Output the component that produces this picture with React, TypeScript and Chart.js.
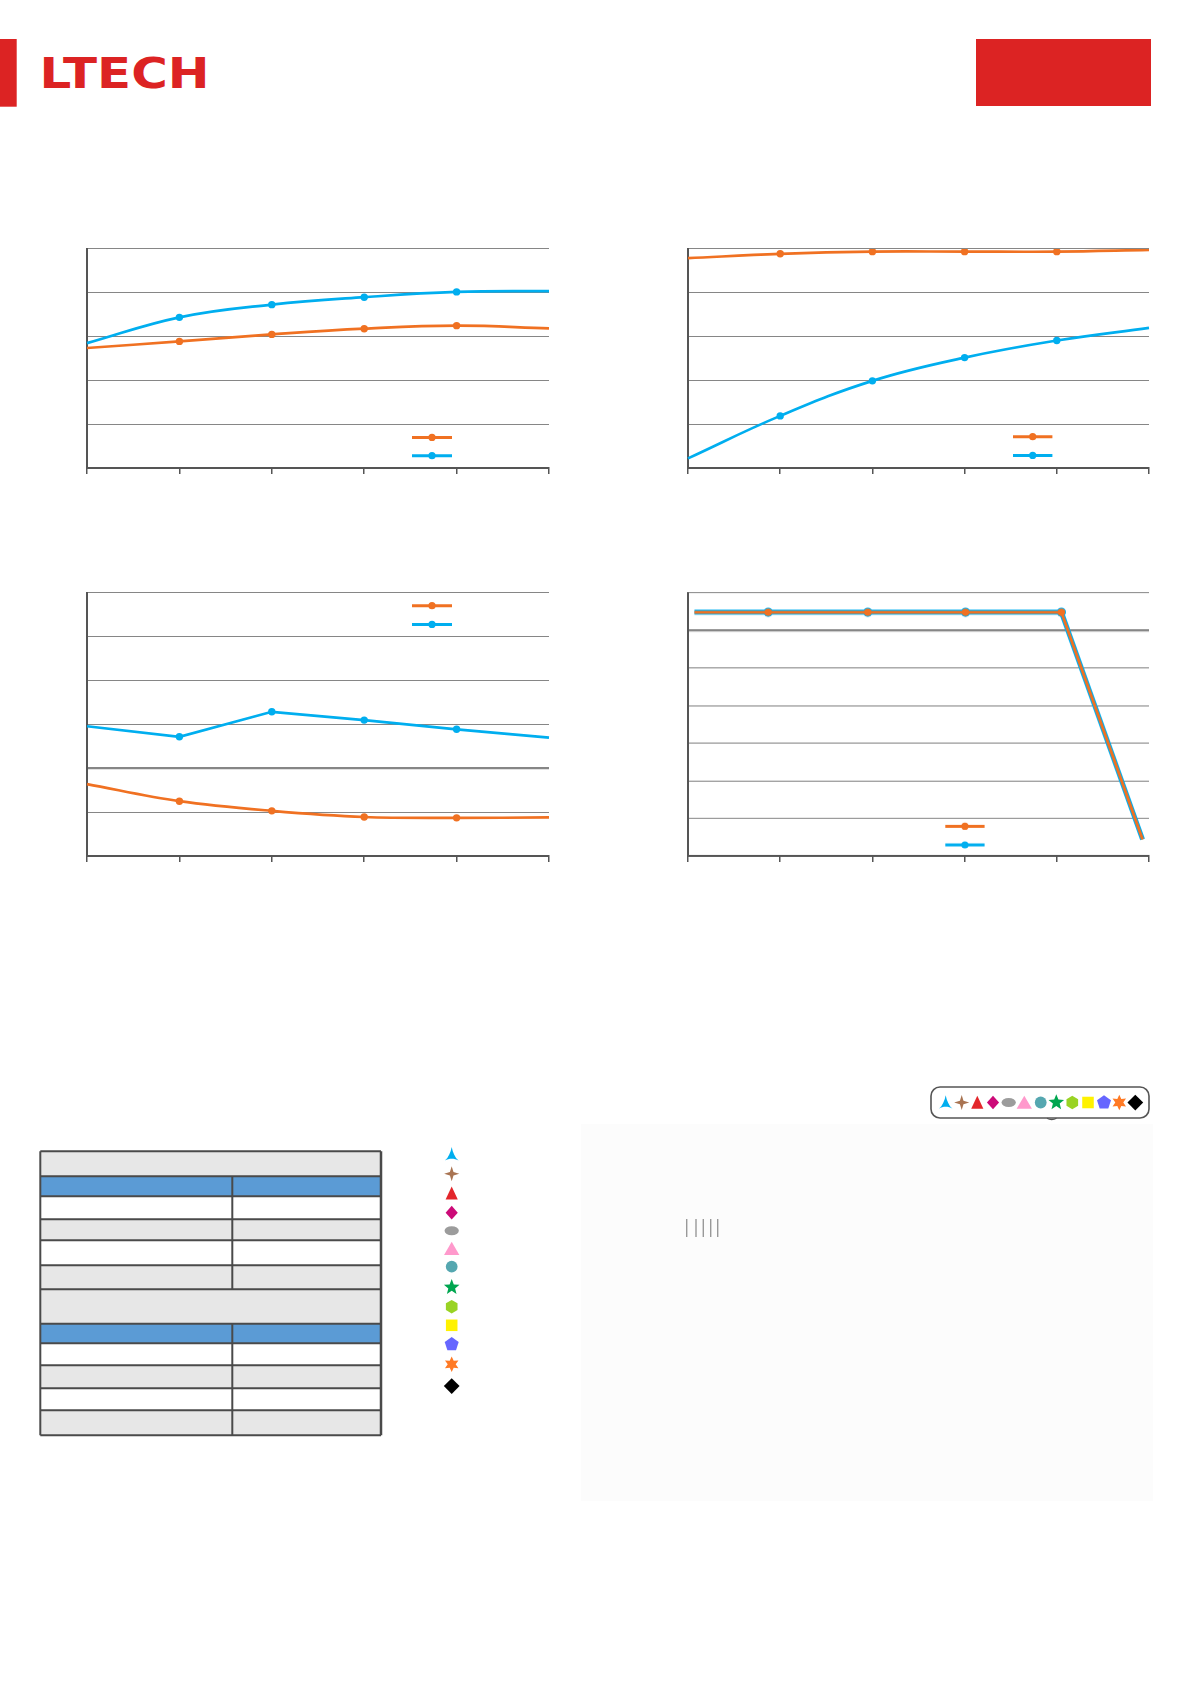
import React, { useEffect, useRef } from "react";
import { Chart, registerables } from "chart.js";
Chart.register(...registerables);

// ---------- data ----------
const ORANGE = "#f07122";
const BLUE = "#00aeef";

const xCats = ["0", "1", "2", "3", "4", "5"];
const c1Orange = [2.74, 2.89, 3.05, 3.18, 3.25, 3.19];
const c1Blue = [2.85, 3.44, 3.73, 3.9, 4.02, 4.04];
const c2Orange = [4.79, 4.89, 4.94, 4.94, 4.94, 4.98];
const c2Blue = [0.22, 1.19, 1.99, 2.52, 2.91, 3.2];
const c3Orange = [1.64, 1.25, 1.03, 0.89, 0.87, 0.88];
const c3Blue = [2.96, 2.72, 3.29, 3.1, 2.89, 2.7];
const c4X = [0.07, 0.87, 1.95, 3.01, 4.05, 4.93];
const c4Y = [6.49, 6.49, 6.49, 6.49, 6.49, 0.44];
const markerRadii = [0, 3.7, 3.7, 3.7, 3.7, 0];

const tableRows = ["title", "head", "white", "gray", "white", "gray", "title", "head", "white", "gray", "white", "gray"];
const tableEdges = [1151.3, 1176.3, 1196.3, 1219.3, 1240.3, 1265.3, 1289.3, 1323.7, 1343.3, 1365.3, 1388.3, 1410.3, 1435.3];

const symbolShapes = ["dart", "star4", "triangle", "diamond", "ellipse", "triangleWide", "circle", "star5", "hexagon", "square", "pentagon", "star6", "diamondBlack"];
const symbolColors = ["#00aeef", "#a97452", "#e3262b", "#cc0a78", "#9c9c9c", "#ff99cc", "#55a7b0", "#00a650", "#99d324", "#fff200", "#6666ff", "#ff7a25", "#000000"];
const listYs = [1154.3, 1173.7, 1193.3, 1212.7, 1230.7, 1248.7, 1266.7, 1287.3, 1306.7, 1325.3, 1344.3, 1364.3, 1386];
const boxXs = [945.7, 961.7, 977.3, 993, 1008.7, 1024.3, 1040.7, 1056.3, 1072.3, 1088, 1104, 1119.3, 1135.3];
const barLineXs = [686.7, 696, 703.3, 710.7, 717.7];

// ---------- chart ----------
type Area = { l: number; r: number; t: number; b: number };

const miniLegend = {
  id: "miniLegend",
  afterDraw(chart: any) {
    const o = chart.options.plugins.miniLegend;
    if (!o) return;
    const ctx = chart.ctx;
    const a = chart.chartArea;
    o.colors.forEach((c: string, i: number) => {
      const y = a.top + o.y + i * o.dy;
      const x = a.left + o.x;
      ctx.save();
      ctx.strokeStyle = c;
      ctx.lineWidth = 3;
      ctx.beginPath();
      ctx.moveTo(x, y);
      ctx.lineTo(x + o.len, y);
      ctx.stroke();
      ctx.fillStyle = c;
      ctx.beginPath();
      ctx.arc(x + o.len / 2, y, 3.6, 0, Math.PI * 2);
      ctx.fill();
      ctx.restore();
    });
  },
};

function LineChart(props: {
  area: Area;
  yMax: number;
  datasets: any[];
  legend: { x: number; y: number; dy: number; len: number; colors: string[] };
  thickAt?: number;
  linearX?: boolean;
}) {
  const ref = useRef<HTMLCanvasElement>(null);
  const { area } = props;
  const pad = 20;
  const tick = 6;
  const w = area.r - area.l + pad * 2;
  const h = area.b - area.t + pad * 2;
  useEffect(() => {
    const chart = new Chart(ref.current as HTMLCanvasElement, {
      type: "line",
      data: { labels: props.linearX ? undefined : xCats, datasets: props.datasets },
      options: {
        animation: false,
        responsive: false,
        layout: { padding: { left: pad, right: pad, top: pad, bottom: pad - tick } },
        plugins: {
          legend: { display: false },
          tooltip: { enabled: false },
          miniLegend: props.legend,
        } as any,
        scales: {
          x: {
            type: props.linearX ? "linear" : "category",
            min: props.linearX ? 0 : undefined,
            max: props.linearX ? 5 : undefined,
            offset: false,
            ticks: { display: false, stepSize: 1 },
            grid: { drawOnChartArea: false, drawTicks: true, tickLength: tick, color: "#555555", lineWidth: 1.5 },
            border: { display: true, color: "#555555", width: 2 },
          } as any,
          y: {
            min: 0,
            max: props.yMax,
            ticks: { display: false, stepSize: 1 },
            grid: {
              drawTicks: false,
              color: "#868686",
              lineWidth: (c: any) => (props.thickAt !== undefined && c.tick && c.tick.value === props.thickAt ? 2.3 : 1.1),
            },
            border: { display: true, color: "#555555", width: 2 },
          },
        },
      },
      plugins: [miniLegend],
    });
    return () => chart.destroy();
  }, []);
  return (
    <canvas
      ref={ref}
      width={w}
      height={h}
      style={{ position: "absolute", left: area.l - pad, top: area.t - pad, width: w, height: h }}
    />
  );
}

function ds(label: string, data: any[], color: string, tension: number, width = 2.7, radii: number[] = markerRadii) {
  return {
    label,
    data,
    borderColor: color,
    backgroundColor: color,
    borderWidth: width,
    tension,
    pointRadius: radii,
    pointBackgroundColor: color,
    pointBorderWidth: 0,
    fill: false,
  };
}

// ---------- symbols ----------
const starPath = (n: number, ro: number, ri: number, rot = -90) => {
  const pts: string[] = [];
  for (let i = 0; i < n * 2; i++) {
    const r = i % 2 === 0 ? ro : ri;
    const a = ((rot + (i * 180) / n) * Math.PI) / 180;
    pts.push(`${(r * Math.cos(a)).toFixed(2)},${(r * Math.sin(a)).toFixed(2)}`);
  }
  return "M" + pts.join("L") + "Z";
};
const polyPath = (n: number, r: number, rot = -90) => {
  const pts: string[] = [];
  for (let i = 0; i < n; i++) {
    const a = ((rot + (i * 360) / n) * Math.PI) / 180;
    pts.push(`${(r * Math.cos(a)).toFixed(2)},${(r * Math.sin(a)).toFixed(2)}`);
  }
  return "M" + pts.join("L") + "Z";
};

function Sym({ shape, color, x, y, k = 1 }: { shape: string; color: string; x: number; y: number; k?: number }) {
  let el: any;
  switch (shape) {
    case "dart":
      el = <path d="M0,-7 C1,-2 3,3 6.5,6 C2.5,3.5 -2.5,3.5 -6.5,6 C-3,3 -1,-2 0,-7Z" fill={color} />;
      break;
    case "star4":
      el = <path d={starPath(4, 7.2, 2.4)} fill={color} />;
      break;
    case "triangle":
      el = <path d="M0,-6.5 L5.8,6 L-5.8,6Z" fill={color} />;
      break;
    case "diamond":
      el = <path d="M0,-6.5 L5.8,0 L0,6.5 L-5.8,0Z" fill={color} />;
      break;
    case "ellipse":
      el = <ellipse cx={0} cy={0} rx={6.8} ry={4.3} fill={color} />;
      break;
    case "triangleWide":
      el = <path d="M0,-6.5 L7.3,6 L-7.3,6Z" fill={color} />;
      break;
    case "circle":
      el = <circle cx={0} cy={0} r={5.6} fill={color} />;
      break;
    case "star5":
      el = <path d={starPath(5, 7.8, 3.4)} fill={color} />;
      break;
    case "hexagon":
      el = <path d={polyPath(6, 6.4, -90)} fill={color} />;
      break;
    case "square":
      el = <rect x={-5.5} y={-5.5} width={11} height={11} fill={color} />;
      break;
    case "pentagon":
      el = <path d={polyPath(5, 7, -90)} fill={color} />;
      break;
    case "star6":
      el = <path d={starPath(6, 7.4, 3.8)} fill={color} />;
      break;
    default:
      el = <path d="M0,-7.5 L7.5,0 L0,7.5 L-7.5,0Z" fill={color} />;
  }
  return <g transform={`translate(${x},${y}) scale(${k})`}>{el}</g>;
}

// ---------- page ----------
export default function App() {
  const RED = "#dc2323";
  const tL = 40.3,
    tR = 381,
    tMid = 232.3;
  return (
    <div style={{ position: "absolute", left: 0, top: 0, width: 1192, height: 1685, background: "#ffffff", overflow: "hidden" }}>
      <svg width={1192} height={1685} style={{ position: "absolute", left: 0, top: 0 }}>
        {/* header */}
        <rect x={0} y={39} width={16.7} height={67.7} fill={RED} />
        <text
          x={39.5}
          y={88.3}
          fontFamily="DejaVu Sans"
          fontWeight="bold"
          fontSize={43}
          fill={RED}
          textLength={170}
          lengthAdjust="spacingAndGlyphs"
        >
          LTECH
        </text>
        <rect x={976} y={39} width={175} height={67} fill={RED} />

        {/* faint panel */}
        <rect x={581} y={1124} width={572} height={377} fill="#fcfcfc" />

        {/* table */}
        {tableRows.map((kind, i) => {
          const y0 = tableEdges[i];
          const y1 = tableEdges[i + 1];
          const fill = kind === "head" ? "#5b9bd5" : kind === "white" ? "#ffffff" : "#e7e7e7";
          return <rect key={i} x={tL} y={y0} width={tR - tL} height={y1 - y0} fill={fill} />;
        })}
        {tableEdges.map((y, i) => (
          <line key={"h" + i} x1={tL} x2={tR} y1={y} y2={y} stroke="#4a4a4a" strokeWidth={2} />
        ))}
        {tableRows.map((kind, i) =>
          kind === "title" ? null : (
            <line key={"v" + i} x1={tMid} x2={tMid} y1={tableEdges[i]} y2={tableEdges[i + 1]} stroke="#4a4a4a" strokeWidth={2} />
          )
        )}
        <line x1={tL} x2={tL} y1={tableEdges[0]} y2={tableEdges[tableEdges.length - 1]} stroke="#4a4a4a" strokeWidth={2} />
        <line x1={tR} x2={tR} y1={tableEdges[0]} y2={tableEdges[tableEdges.length - 1]} stroke="#4a4a4a" strokeWidth={2.5} />

        {/* symbol list */}
        {symbolShapes.map((s, i) => (
          <Sym key={"l" + i} shape={s} color={symbolColors[i]} x={451.7} y={listYs[i]} k={1.05} />
        ))}

        {/* symbol box */}
        <rect x={931} y={1087} width={218} height={31} rx={9} ry={9} fill="#ffffff" stroke="#555555" strokeWidth={1.6} />
        <path d="M1047,1118.2 Q1051.7,1121 1056.5,1118.2" fill="none" stroke="#555555" strokeWidth={1.3} />
        {symbolShapes.map((s, i) => (
          <Sym key={"b" + i} shape={s} color={symbolColors[i]} x={boxXs[i]} y={1102.5} k={1.05} />
        ))}

        {/* small vertical marks */}
        {barLineXs.map((x, i) => (
          <line key={"m" + i} x1={x} x2={x} y1={1219} y2={1237} stroke="#999999" strokeWidth={1.4} />
        ))}
      </svg>

      <LineChart
        area={{ l: 87, r: 549, t: 249.3, b: 468.3 }}
        yMax={5}
        datasets={[ds("A", c1Orange, ORANGE, 0.4), ds("B", c1Blue, BLUE, 0.4)]}
        legend={{ x: 325, y: 188.4, dy: 18.3, len: 40, colors: [ORANGE, BLUE] }}
      />
      <LineChart
        area={{ l: 688, r: 1149.3, t: 249.3, b: 468.3 }}
        yMax={5}
        datasets={[ds("A", c2Orange, ORANGE, 0.4), ds("B", c2Blue, BLUE, 0.4)]}
        legend={{ x: 325, y: 187.7, dy: 18.7, len: 39.4, colors: [ORANGE, BLUE] }}
      />
      <LineChart
        area={{ l: 87, r: 549, t: 593.3, b: 856.3 }}
        yMax={6}
        thickAt={2}
        datasets={[ds("A", c3Orange, ORANGE, 0.35), ds("B", c3Blue, BLUE, 0)]}
        legend={{ x: 325, y: 12.7, dy: 18.7, len: 40, colors: [ORANGE, BLUE] }}
      />
      <LineChart
        area={{ l: 688, r: 1149.3, t: 593.3, b: 856 }}
        yMax={7}
        thickAt={6}
        linearX
        datasets={[
          ds("A", c4X.map((x, i) => ({ x, y: c4Y[i] })), ORANGE, 0, 2.8, markerRadii),
          ds("B", c4X.map((x, i) => ({ x, y: c4Y[i] })), BLUE, 0, 5, [0, 4.6, 4.6, 4.6, 4.6, 0]),
        ]}
        legend={{ x: 257.3, y: 232.4, dy: 18.6, len: 39.3, colors: [ORANGE, BLUE] }}
      />
    </div>
  );
}
